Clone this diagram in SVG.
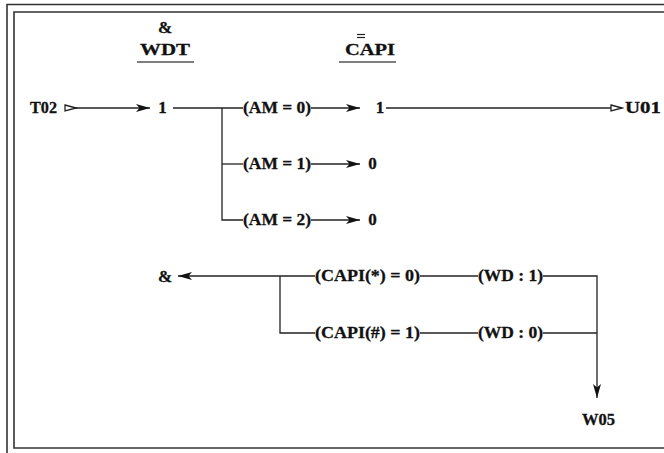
<svg xmlns="http://www.w3.org/2000/svg" width="664" height="453" viewBox="0 0 664 453">
<style>
text{font-family:"Liberation Serif","Times New Roman",serif;font-weight:bold;font-size:17px;fill:#111;stroke:#111;stroke-width:0.3}
.c{fill:none;stroke:#222;stroke-width:1.3}
.b{fill:none;stroke:#333;stroke-width:1.6}
.u{stroke:#555;stroke-width:1.6}
</style>
<defs>
<marker id="sol" markerWidth="16" markerHeight="10" refX="14" refY="5" orient="auto" markerUnits="userSpaceOnUse">
<path d="M0,1 L14,5 L0,9 L3.5,5 z" fill="#111"/>
</marker>
<marker id="openS" markerWidth="14" markerHeight="10" refX="1" refY="5" orient="auto" markerUnits="userSpaceOnUse">
<path d="M1,2 L12,5 L1,8 z" fill="#fff" stroke="#222" stroke-width="1.3"/>
</marker>
<marker id="openE" markerWidth="14" markerHeight="10" refX="12" refY="5" orient="auto" markerUnits="userSpaceOnUse">
<path d="M1,2 L12,5 L1,8 z" fill="#fff" stroke="#222" stroke-width="1.3"/>
</marker>
</defs>
<g id="frame">
<path class="b" d="M7,453 V4.5 H664"/>
<path class="b" d="M664,12 H14 V448 H664"/>
</g>
<g id="headers">
<text x="165" y="33" text-anchor="middle">&amp;</text>
<text x="140" y="55" textLength="50" lengthAdjust="spacingAndGlyphs">WDT</text>
<line class="u" x1="137" y1="62" x2="194" y2="62"/>
<text x="345" y="55" textLength="50" lengthAdjust="spacingAndGlyphs">CAPI</text>
<line x1="357" y1="34.5" x2="365" y2="34.5" stroke="#222" stroke-width="1.2"/>
<line x1="357" y1="37.5" x2="365" y2="37.5" stroke="#222" stroke-width="1.2"/>
<line class="u" x1="339" y1="62" x2="396" y2="62"/>
</g>
<g id="connectors">
<path class="c" d="M65,108 H150" marker-start="url(#openS)" marker-end="url(#sol)"/>
<path class="c" d="M173,108 H243"/>
<path class="c" d="M222,108 V220 H243"/>
<path class="c" d="M222,164 H243"/>
<path class="c" d="M311,108 H360" marker-end="url(#sol)"/>
<path class="c" d="M311,164 H360" marker-end="url(#sol)"/>
<path class="c" d="M311,220 H360" marker-end="url(#sol)"/>
<path class="c" d="M386,108 H622" marker-end="url(#openE)"/>
<path class="c" d="M315,276 H178" marker-end="url(#sol)"/>
<path class="c" d="M280,276 V333 H315"/>
<path class="c" d="M420,276 H478"/>
<path class="c" d="M420,333 H478"/>
<path class="c" d="M543,276 H597 V398" marker-end="url(#sol)"/>
<path class="c" d="M543,333 H597"/>
</g>
<g id="T02"><text x="30" y="113" textLength="27" lengthAdjust="spacingAndGlyphs">T02</text></g>
<g id="n1a"><text x="162.5" y="113" text-anchor="middle">1</text></g>
<g id="am0"><text x="243" y="113" textLength="68" lengthAdjust="spacingAndGlyphs">(AM = 0)</text></g>
<g id="am1"><text x="243" y="169" textLength="68" lengthAdjust="spacingAndGlyphs">(AM = 1)</text></g>
<g id="am2"><text x="243" y="225" textLength="68" lengthAdjust="spacingAndGlyphs">(AM = 2)</text></g>
<g id="n1b"><text x="380" y="113" text-anchor="middle">1</text></g>
<g id="n0a"><text x="372.5" y="169" text-anchor="middle">0</text></g>
<g id="n0b"><text x="372.5" y="225" text-anchor="middle">0</text></g>
<g id="U01"><text x="625" y="113" textLength="36" lengthAdjust="spacingAndGlyphs">U01</text></g>
<g id="amp2"><text x="165" y="282" text-anchor="middle">&amp;</text></g>
<g id="capi0"><text x="315" y="281" textLength="105" lengthAdjust="spacingAndGlyphs">(CAPI(*) = 0)</text></g>
<g id="capi1"><text x="315" y="338" textLength="105" lengthAdjust="spacingAndGlyphs">(CAPI(#) = 1)</text></g>
<g id="wd1"><text x="478" y="281" textLength="65" lengthAdjust="spacingAndGlyphs">(WD : 1)</text></g>
<g id="wd0"><text x="478" y="338" textLength="65" lengthAdjust="spacingAndGlyphs">(WD : 0)</text></g>
<g id="W05"><text x="582" y="425" textLength="33" lengthAdjust="spacingAndGlyphs">W05</text></g>
</svg>
